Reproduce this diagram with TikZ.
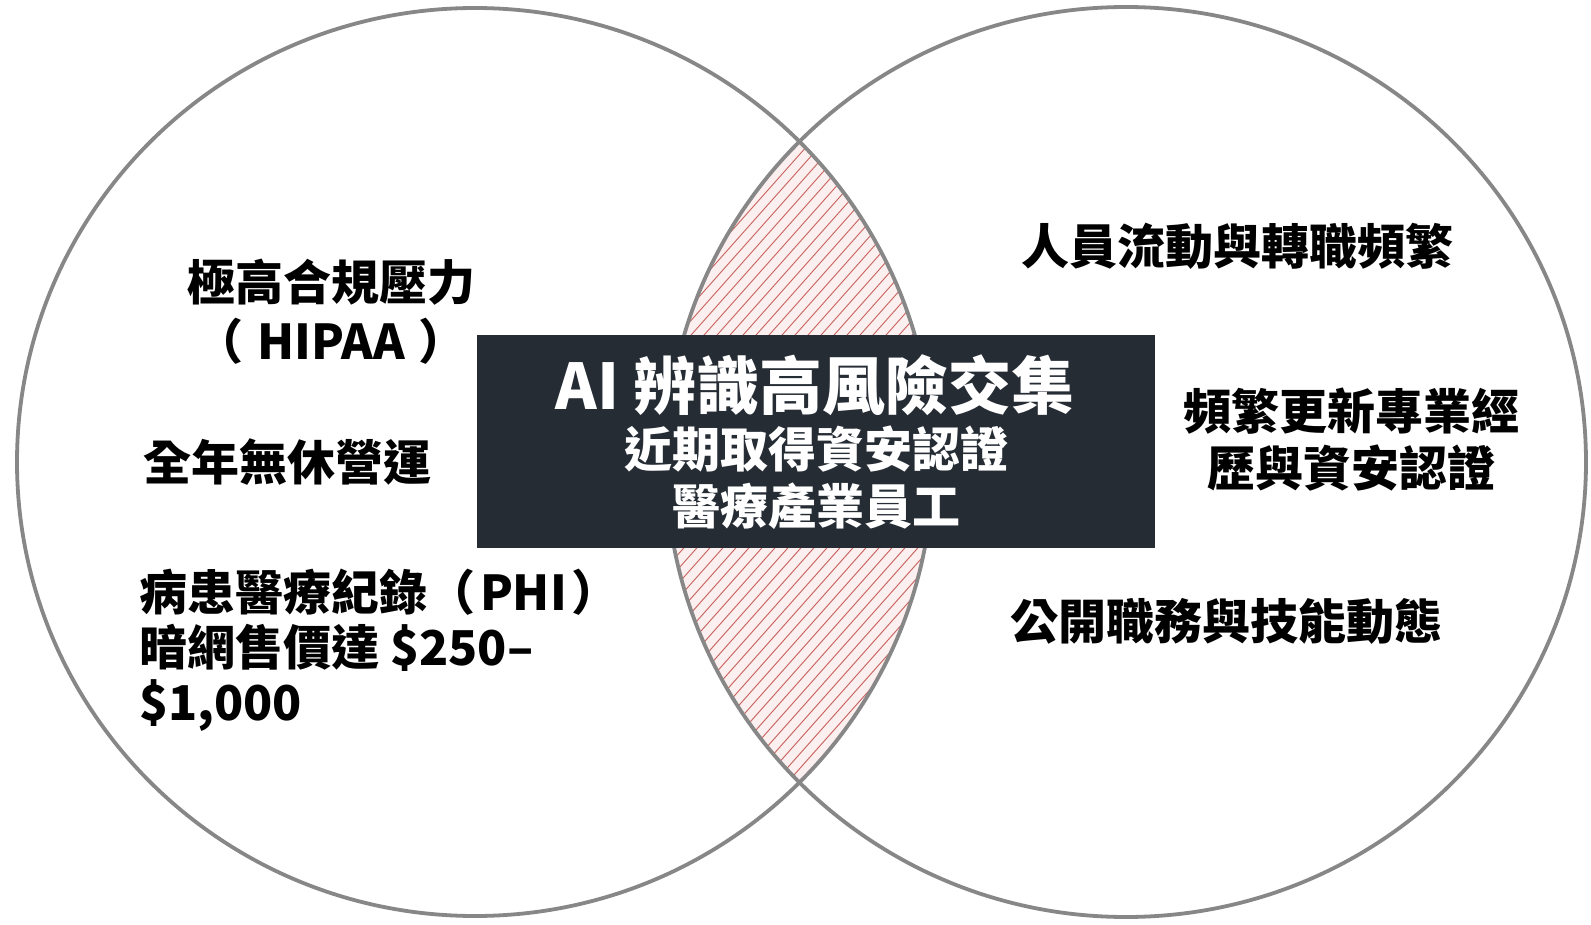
\documentclass[tikz,border=0pt]{standalone}
\usepackage{fontspec}
\newfontfamily\cjk{Noto Sans CJK TC}
\definecolor{ringgray}{HTML}{878787}
\definecolor{hatchred}{HTML}{C8605C}
\definecolor{lenspink}{HTML}{FCEFEF}
\definecolor{boxdark}{HTML}{252C34}
\tikzset{
  ring/.style={draw=ringgray, line width=3.8pt},
  hatchline/.style={draw=hatchred, line width=0.9pt},
  label/.style={font=\cjk\bfseries\fontsize{48}{55}\selectfont, text=black, inner sep=0pt},
  boxtext/.style={text=white, inner sep=0pt},
  darkbox/.style={fill=boxdark, draw=none, minimum width=678pt, minimum height=213pt, inner sep=0pt}
}
\newcommand{\pgap}{\kern 0.28em}
\newcommand{\sgap}{\kern 0.1em}
\begin{document}
\begin{tikzpicture}[x=1pt,y=-1pt]
\useasboundingbox (0,0) rectangle (1591,925);
\fill[white] (0,0) rectangle (1591,925);
% lens
\begin{scope}
  \clip (475,462) ellipse [x radius=458pt, y radius=454pt];
  \clip (1126,462) ellipse [x radius=460pt, y radius=455pt];
  \fill[lenspink] (600,100) rectangle (1000,820);
  \foreach \a in {0,13,...,1000} {
    \draw[hatchline] (\a,820) -- ++(640,-720);
  }
\end{scope}
% circles
\draw[ring] (475,462) ellipse [x radius=458pt, y radius=454pt];
\draw[ring] (1126,462) ellipse [x radius=460pt, y radius=455pt];
% central box
\node[darkbox] (box) at (816,441.5) {};
\node[boxtext, font=\cjk\bfseries\fontsize{63}{70}\selectfont] (t1) at (815,385) {AI 辨識高風險交集};
\node[boxtext, font=\cjk\bfseries\fontsize{48}{55}\selectfont] (t2) at (816,449) {近期取得資安認證};
\node[boxtext, font=\cjk\bfseries\fontsize{48}{55}\selectfont] (t3) at (816,506) {醫療產業員工};
% left labels
\node[label] (l1) at (331,282) {極高合規壓力};
\node[label] (l2) at (331,341) {（\pgap HIPAA\pgap ）};
\node[label] (l3) at (287,462) {全年無休營運};
\node[label, anchor=west] (l4) at (139,592) {病患醫療紀錄（\sgap PHI\sgap ）};
\node[label, anchor=west] (l5) at (139,648) {暗網售價達 \$250–};
\node[label, anchor=west] (l6) at (139,705) {\$1,000};
% right labels
\node[label] (r1) at (1237,246) {人員流動與轉職頻繁};
\node[label] (r2) at (1351,411) {頻繁更新專業經};
\node[label] (r3) at (1351,468) {歷與資安認證};
\node[label] (r4) at (1226,621) {公開職務與技能動態};
\end{tikzpicture}
\end{document}
